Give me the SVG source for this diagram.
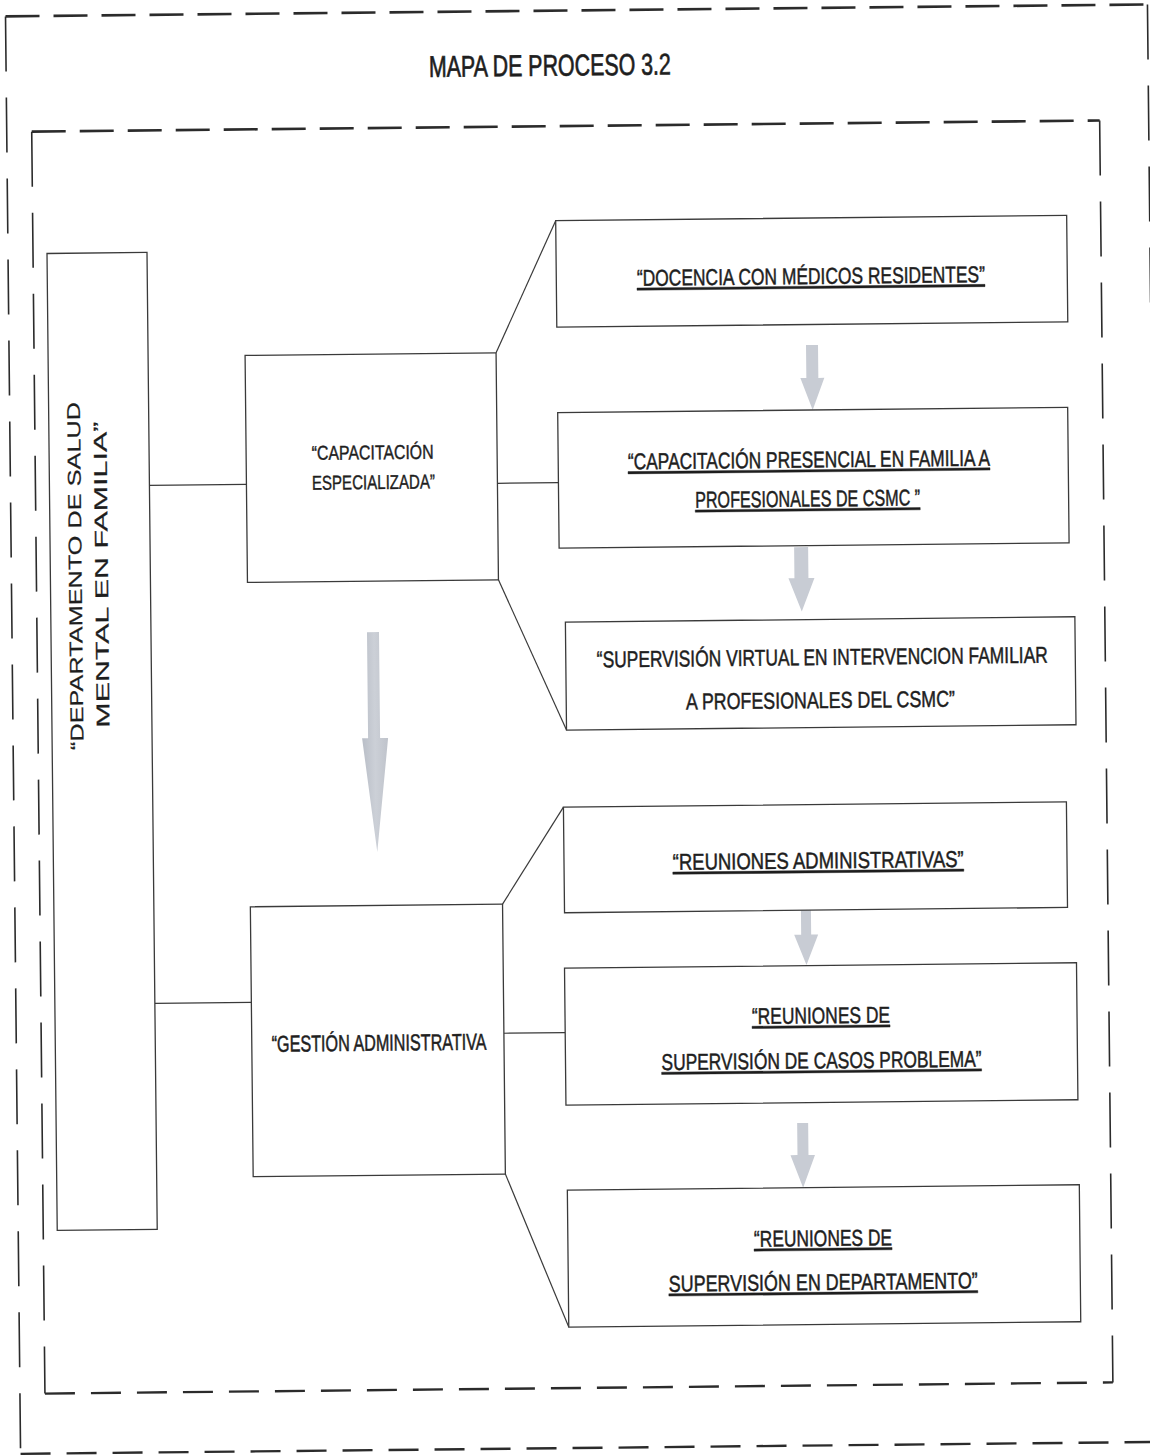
<svg xmlns="http://www.w3.org/2000/svg" width="1150" height="1456" viewBox="0 0 1150 1456">
<defs>
<style>
.box{fill:#ffffff;stroke:#3a3a3a;stroke-width:1.3}
.conn{stroke:#3a3a3a;stroke-width:1.2;fill:none}
.t{font-family:"Liberation Sans Narrow","Liberation Sans",Arial,sans-serif;fill:#1e1e1e;stroke:#1e1e1e;stroke-width:0.4;text-anchor:middle}
.v{font-family:"Liberation Sans",Arial,sans-serif;fill:#1e1e1e;stroke:#1e1e1e;stroke-width:0.2;text-anchor:middle;font-size:18.5px}
.u{text-decoration:underline}
.arrow{fill:#c8ccd4}
.dh{stroke:#2b2b2b;stroke-width:2.6;stroke-dasharray:34 14;fill:none}
.dhb{stroke:#2b2b2b;stroke-width:2.4;stroke-dasharray:30 16;fill:none}
.dv{stroke:#2b2b2b;stroke-width:1.6;stroke-dasharray:55 26;fill:none}
</style>
<linearGradient id="bigg" x1="0" y1="0" x2="1" y2="0">
<stop offset="0" stop-color="#b9bec7"/>
<stop offset="0.5" stop-color="#ccd0d7"/>
<stop offset="1" stop-color="#bfc3cb"/>
</linearGradient>
</defs>
<rect x="0" y="0" width="1150" height="1456" fill="#ffffff"/>
<g transform="rotate(-0.6 575 728)">
<g id="frame-outer">
<line class="dh" x1="13" y1="10.5" x2="1156" y2="10.5"/>
<line class="dhb" x1="13" y1="1448" x2="1156" y2="1448"/>
<line class="dv" x1="13" y1="10.5" x2="13" y2="1448"/>
<line class="dv" x1="1155" y1="10.5" x2="1155" y2="1448"/>
</g>
<g id="frame-inner">
<line class="dh" x1="38" y1="126" x2="1106" y2="126"/>
<line class="dhb" x1="38" y1="1388" x2="1106" y2="1388"/>
<line class="dv" x1="38" y1="126" x2="38" y2="1388"/>
<line class="dv" x1="1106" y1="126" x2="1106" y2="1388"/>
</g>
<g id="title">
<text class="t" x="556.8" y="75.5" font-size="30" style="stroke-width:0.7" textLength="242" lengthAdjust="spacingAndGlyphs">MAPA DE PROCESO 3.2</text>
</g>
<g id="connectors">
<line class="conn" x1="152" y1="481" x2="249" y2="481"/>
<line class="conn" x1="500" y1="482.5" x2="561" y2="482.5"/>
<line class="conn" x1="500" y1="352" x2="561" y2="220.5"/>
<line class="conn" x1="500" y1="579" x2="566.5" y2="730"/>
<line class="conn" x1="152" y1="999" x2="248.5" y2="999"/>
<line class="conn" x1="500.7" y1="1032.5" x2="562" y2="1032.5"/>
<line class="conn" x1="500.7" y1="903.4" x2="562.6" y2="807"/>
<line class="conn" x1="500.7" y1="1173.3" x2="562.5" y2="1327"/>
<polygon class="arrow" points="810,347.5 822,347.5 822,380.5 828,380.5 816,412.5 804,380.5 810,380.5"/>
<polygon class="arrow" points="796,549.5 810,549.5 810,580.5 816,580.5 803,614 790,580.5 796,580.5"/>
<polygon class="arrow" points="799,905 809,905 809,937 816,937 804,967.5 792,937 799,937"/>
<polygon class="arrow" points="793,1125.4 804,1125.4 804,1157.4 810.5,1157.4 798.3,1190 786,1157.4 793,1157.4"/>
<polygon fill="url(#bigg)" points="368,630 380,630 380,736 388,736 376,850 362,736 368,736"/>
</g>
<g id="n-departamento">
<rect class="box" x="52" y="248" width="100" height="977" stroke="#555"/>
<text class="v" transform="translate(83.3 570.8) rotate(-90)" x="0" y="0" textLength="348" lengthAdjust="spacingAndGlyphs">“DEPARTAMENTO DE   SALUD</text>
<text class="v" transform="translate(109.6 569.8) rotate(-90)" x="0" y="0" textLength="306" lengthAdjust="spacingAndGlyphs">MENTAL EN FAMILIA”</text>
</g>
<g id="n-capacitacion">
<rect class="box" x="249" y="352" width="251" height="227"/>
<text class="t" x="375.5" y="457.2" font-size="20" textLength="122" lengthAdjust="spacingAndGlyphs">“CAPACITACIÓN</text>
<text class="t" x="376" y="487" font-size="20" textLength="123" lengthAdjust="spacingAndGlyphs">ESPECIALIZADA”</text>
</g>
<g id="n-gestion">
<rect class="box" x="248.5" y="903.4" width="252.2" height="269.9"/>
<text class="t" transform="translate(375.8 1048.6) scale(1 1.35)" x="0" y="0" font-size="17" textLength="215" lengthAdjust="spacingAndGlyphs">“GESTIÓN ADMINISTRATIVA</text>
</g>
<g id="n-docencia">
<rect class="box" x="561" y="220.5" width="511" height="106.5" stroke="#555"/>
<text class="t u" transform="translate(815.6 286.5) scale(1 1.2)" x="0" y="0" font-size="19" textLength="348" lengthAdjust="spacingAndGlyphs">“DOCENCIA CON MÉDICOS RESIDENTES”</text>
</g>
<g id="n-presencial">
<rect class="box" x="561" y="412.5" width="510" height="135.5" stroke="#555"/>
<text class="t u" transform="translate(811.7 470) scale(1 1.2)" x="0" y="0" font-size="19" textLength="362" lengthAdjust="spacingAndGlyphs">“CAPACITACIÓN PRESENCIAL EN FAMILIA A</text>
<text class="t u" transform="translate(810 509) scale(1 1.2)" x="0" y="0" font-size="19" textLength="225" lengthAdjust="spacingAndGlyphs">PROFESIONALES DE CSMC ”</text>
</g>
<g id="n-virtual">
<rect class="box" x="566.5" y="622" width="509.5" height="108" stroke="#555"/>
<text class="t" transform="translate(823 667.6) scale(1 1.2)" x="0" y="0" font-size="19" textLength="451" lengthAdjust="spacingAndGlyphs">“SUPERVISIÓN VIRTUAL EN INTERVENCION FAMILIAR</text>
<text class="t" transform="translate(820.7 710.6) scale(1 1.2)" x="0" y="0" font-size="19" textLength="269" lengthAdjust="spacingAndGlyphs">A PROFESIONALES DEL CSMC”</text>
</g>
<g id="n-reuniones-adm">
<rect class="box" x="562.6" y="807" width="503" height="105.6" stroke="#555"/>
<text class="t u" transform="translate(816.8 870.9) scale(1 1.2)" x="0" y="0" font-size="19" textLength="291" lengthAdjust="spacingAndGlyphs">“REUNIONES ADMINISTRATIVAS”</text>
</g>
<g id="n-casos">
<rect class="box" x="562" y="968" width="512" height="137" stroke="#555"/>
<text class="t u" transform="translate(817.9 1025.9) scale(1 1.2)" x="0" y="0" font-size="19" textLength="138" lengthAdjust="spacingAndGlyphs">“REUNIONES DE</text>
<text class="t u" transform="translate(818 1070.9) scale(1 1.2)" x="0" y="0" font-size="19" textLength="320" lengthAdjust="spacingAndGlyphs">SUPERVISIÓN DE CASOS PROBLEMA”</text>
</g>
<g id="n-departamento-sup">
<rect class="box" x="562.5" y="1190" width="512" height="137" stroke="#555"/>
<text class="t u" transform="translate(817.6 1248.6) scale(1 1.2)" x="0" y="0" font-size="19" textLength="138" lengthAdjust="spacingAndGlyphs">“REUNIONES DE</text>
<text class="t u" transform="translate(817.4 1292.6) scale(1 1.2)" x="0" y="0" font-size="19" textLength="309" lengthAdjust="spacingAndGlyphs">SUPERVISIÓN EN DEPARTAMENTO”</text>
</g>
</g>
</svg>
